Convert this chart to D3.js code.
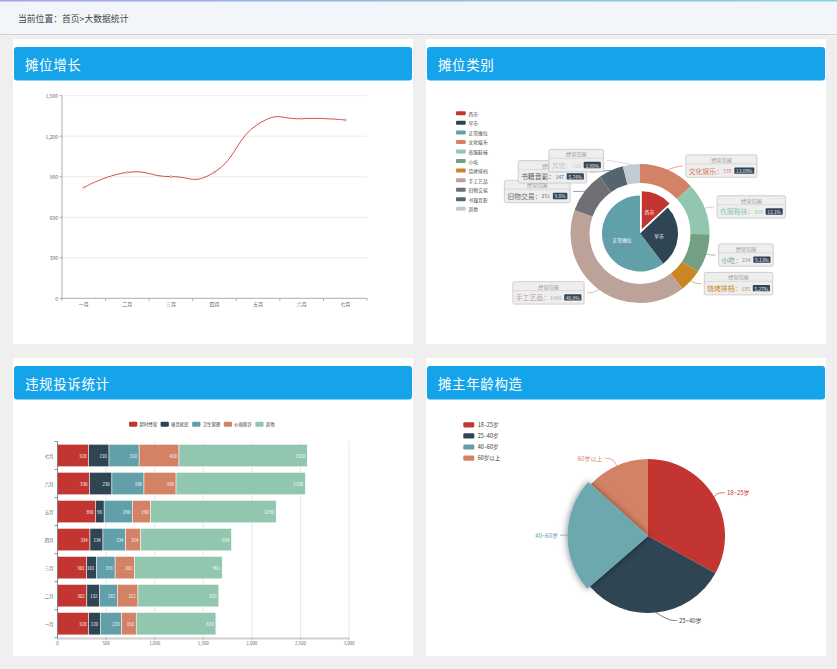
<!DOCTYPE html>
<html><head><meta charset="utf-8">
<script src="https://cdn.jsdelivr.net/npm/d3@7"></script>
<style>
html,body{margin:0;padding:0;background:#efefef;width:837px;height:669px;overflow:hidden;}
svg{display:block;font-family:"Noto Sans CJK SC","Noto Sans",sans-serif;}
</style></head><body>
<svg id="chart" width="837" height="669"></svg>
<script>
// ---------- DATA ----------
const months = ["一月","二月","三月","四月","五月","六月","七月"];
const growthValues = [820, 932, 901, 934, 1290, 1330, 1320];
const growthTicks = [0, 300, 600, 900, 1200, 1500];

const innerNames = ["西市","早市","正常摊位"];
const innerValues = [335, 679, 1548];
const outerNames = ["文化娱乐","衣服鞋袜","小吃","烧烤排档","手工艺品","旧物交易","书籍音影","其他"];
const outerValues = [335, 310, 234, 135, 1048, 251, 147, 102];
const palette = ['#c23531','#2f4554','#61a0a8','#d48265','#91c7ae','#749f83','#ca8622','#bda29a','#6e7074','#546570','#c4ccd3'];

const complaintTypes = ["超时经营","噪音扰民","卫生管理","价格欺诈","其他"];
const complaintTimeout = [320, 302, 301, 334, 390, 330, 320];
const complaintNoise   = [120, 132, 101, 134, 90, 230, 210];
const complaintHygiene = [220, 182, 191, 234, 290, 330, 310];
const complaintPrice   = [150, 212, 201, 154, 190, 330, 410];
const complaintOther   = [820, 832, 901, 934, 1290, 1330, 1320];
const complaintTicks = [0, 500, 1000, 1500, 2000, 2500, 3000];

const ageGroups = ["18~25岁","25~40岁","40~60岁","60岁以上"];
const ageValues = [335, 310, 234, 135];

// ---------- PAGE ----------
const svg = d3.select("#chart");
const defs = svg.append("defs");
const gr = defs.append("linearGradient").attr("id","topline").attr("x1","0").attr("x2","1");
gr.append("stop").attr("offset","0").attr("stop-color","#a3a3e2");
gr.append("stop").attr("offset","1").attr("stop-color","#86d2e6");
const fl = defs.append("filter").attr("id","shadow").attr("x","-50%").attr("y","-50%").attr("width","200%").attr("height","200%");
fl.append("feDropShadow").attr("dx",0).attr("dy",0).attr("stdDeviation",3.5).attr("flood-color","#000").attr("flood-opacity",0.5);

svg.append("rect").attr("x",0).attr("y",0).attr("width",837).attr("height",34).attr("fill","#f2f5fa");
svg.append("rect").attr("x",0).attr("y",0).attr("width",837).attr("height",1.5).attr("fill","url(#topline)");
svg.append("line").attr("x1",0).attr("x2",837).attr("y1",34.5).attr("y2",34.5).attr("stroke","#d2d2d2");
svg.append("text").attr("x",18).attr("y",18).attr("dominant-baseline","central")
  .attr("font-size",8.8).attr("fill","#444").text("当前位置：首页>大数据统计");

const panels = [
  {x:13,y:39,w:400,h:305,title:"摊位增长"},
  {x:426,y:39,w:400,h:305,title:"摊位类别"},
  {x:13,y:358,w:400,h:298,title:"违规投诉统计"},
  {x:426,y:358,w:400,h:298,title:"摊主年龄构造"}];
panels.forEach(p=>{
  svg.append("rect").attr("x",p.x).attr("y",p.y).attr("width",p.w).attr("height",p.h).attr("fill","#fff");
  svg.append("rect").attr("x",p.x+1).attr("y",p.y+8).attr("width",p.w-2).attr("height",33.5).attr("rx",3).attr("fill","#15a4ea");
  svg.append("text").attr("x",p.x+12).attr("y",p.y+25).attr("dominant-baseline","central")
    .attr("font-size",13.5).attr("fill","#fff").attr("letter-spacing",0.6).text(p.title);
});

// ---------- LINE CHART ----------
(function(){
  const g = svg.append("g");
  const x = d3.scaleBand().domain(months).range([62, 367]);
  const y = d3.scaleLinear().domain([0,1500]).range([298.3, 95.7]);
  g.selectAll("line.grid").data(growthTicks.filter(t=>t>0)).join("line")
    .attr("x1",62).attr("x2",367).attr("y1",d=>y(d)).attr("y2",d=>y(d)).attr("stroke","#e6e6e6").attr("stroke-width",0.8);
  g.append("line").attr("x1",62).attr("x2",62).attr("y1",y(1500)).attr("y2",y(0)).attr("stroke","#999").attr("stroke-width",0.8);
  g.append("line").attr("x1",62).attr("x2",367).attr("y1",y(0)).attr("y2",y(0)).attr("stroke","#999").attr("stroke-width",0.8);
  g.selectAll("line.yt").data(growthTicks).join("line")
    .attr("x1",59.5).attr("x2",62).attr("y1",d=>y(d)).attr("y2",d=>y(d)).attr("stroke","#999").attr("stroke-width",0.8);
  g.selectAll("text.yl").data(growthTicks).join("text")
    .attr("x",58).attr("y",d=>y(d)).attr("text-anchor","end").attr("dominant-baseline","central")
    .attr("font-size",5).attr("fill","#666").text(d=>d3.format(",")(d));
  const bounds = months.map(m=>x(m)).concat([x.range()[1]]);
  g.selectAll("line.xt").data(bounds).join("line")
    .attr("x1",d=>d).attr("x2",d=>d).attr("y1",y(0)).attr("y2",y(0)+2.5).attr("stroke","#999").attr("stroke-width",0.8);
  g.selectAll("text.xl").data(months).join("text")
    .attr("x",d=>x(d)+x.bandwidth()/2).attr("y",y(0)+5.5).attr("text-anchor","middle").attr("dominant-baseline","central")
    .attr("font-size",5).attr("fill","#666").text(d=>d);
  const line = d3.line().x((d,i)=>x(months[i])+x.bandwidth()/2).y(d=>y(d)).curve(d3.curveCardinal.tension(-0.5));
  g.append("path").attr("d",line(growthValues)).attr("fill","none").attr("stroke","#d0504c").attr("stroke-width",1);
  g.selectAll("circle").data(growthValues).join("circle")
    .attr("cx",(d,i)=>x(months[i])+x.bandwidth()/2).attr("cy",d=>y(d)).attr("r",1)
    .attr("fill","#fff").attr("stroke","#d0504c").attr("stroke-width",0.5);
})();

// ---------- DONUT ----------
function percentWithPrecision(vals, prec){
  const sum = d3.sum(vals), digits = Math.pow(10,prec), target = 100*digits;
  const votes = vals.map(v=>v/sum*target);
  const seats = votes.map(v=>Math.floor(v));
  const rem = votes.map((v,i)=>v-seats[i]);
  let cur = d3.sum(seats);
  while(cur<target){ const mi = d3.maxIndex(rem); seats[mi]++; rem[mi]=-1; cur++; }
  return seats.map(s=>+(s/digits).toFixed(prec));
}
(function(){
  const g = svg.append("g");
  const cx=640, cy=233.5, R=69.5, r0=50.5, pr=38;
  // legend
  const legendNames = innerNames.concat(outerNames);
  legendNames.forEach((n,i)=>{
    const yy = 113.3 + i*9.55;
    g.append("rect").attr("x",456).attr("y",yy-2).attr("width",9.7).attr("height",4).attr("rx",1).attr("fill",palette[i]);
    g.append("text").attr("x",468.5).attr("y",yy).attr("dominant-baseline","central").attr("font-size",4.8).attr("fill","#444").text(n);
  });
  const innerArcs = d3.pie().sort(null)(innerValues);
  const outerArcs = d3.pie().sort(null)(outerValues);
  const arcPie = d3.arc().innerRadius(0).outerRadius(pr);
  const arcRing = d3.arc().innerRadius(r0).outerRadius(R);
  const selOff = 4.5;
  innerArcs.forEach((a,i)=>{
    const m=(a.startAngle+a.endAngle)/2, off = i===0?selOff:0;
    const tx = Math.sin(m)*off, ty = -Math.cos(m)*off;
    g.append("path").attr("d",arcPie(a)).attr("transform",`translate(${cx+tx},${cy+ty})`).attr("fill",palette[i]);
  });
  innerArcs.forEach((a,i)=>{
    const m=(a.startAngle+a.endAngle)/2, off = i===0?selOff:0;
    const rr = pr*0.5 + off;
    g.append("text").attr("x",cx+Math.sin(m)*rr).attr("y",cy-Math.cos(m)*rr).attr("text-anchor","middle")
      .attr("dominant-baseline","central").attr("font-size",4.8).attr("fill","#fff").text(innerNames[i]);
  });
  outerArcs.forEach((a,i)=>{
    g.append("path").attr("d",arcRing(a)).attr("transform",`translate(${cx},${cy})`).attr("fill",palette[i+3]);
  });
  // labels
  const pct = percentWithPrecision(outerValues, 2);
  const h = 11.3, L1 = 4, len2 = 5, RL = 81.5;
  const labels = outerArcs.map((a,i)=>{
    const m=(a.startAngle+a.endAngle)/2;
    const s=Math.sin(m), c=Math.cos(m);
    return {i, m, s, c, dir: s<0?-1:1, p0:[cx+s*R, cy-c*R], y: cy-c*(R+L1), x: cx+s*(R+L1)};
  });
  function adjust(list, dir){
    list.sort((p,q)=>p.y-q.y);
    const len=list.length;
    function shiftUp(end, delta){ for(let j=end;j>=0;j--){ list[j].y-=delta; if(j>0 && list[j].y>list[j-1].y+h) break; } }
    function shiftDown(start,end,delta){
      for(let j=start;j<end;j++){ list[j].y+=delta; if(j>start && j+1<end && list[j+1].y>list[j].y+h){ shiftUp(j,delta/2); return; } }
      shiftUp(end-1,delta/2);
    }
    let lastY=0;
    for(let i=0;i<len;i++){ const d=list[i].y-lastY; if(d<0) shiftDown(i,len,-d); lastY=list[i].y+h; }
    const up=list.filter(l=>l.y<cy), down=list.filter(l=>l.y>=cy);
    function changeX(lst, isDown){
      let last = isDown?Number.MAX_VALUE:0;
      lst.forEach(l=>{
        const dy=Math.abs(l.y-cy);
        let dx = dy<RL ? Math.sqrt(RL*RL-dy*dy) : Math.abs(l.x-cx);
        if(isDown && dx>=last) dx=last-10;
        if(!isDown && dx<=last) dx=last+10;
        l.ex = cx + dx*dir; last=dx;
      });
    }
    changeX(up,false); changeX(down.slice(),true);
  }
  adjust(labels.filter(l=>l.dir<0),-1);
  adjust(labels.filter(l=>l.dir>0),1);
  const lineGen = d3.line().curve(d3.curveBasis);
  labels.forEach(l=>{
    const endX = l.ex - l.dir*3;
    g.append("path").attr("d",lineGen([l.p0,[endX-l.dir*len2,l.y],[endX,l.y]]))
      .attr("fill","none").attr("stroke",palette[l.i+3]).attr("stroke-width",0.7);
  });
  const hh=9, bh=13.5, sp=2.8;
  labels.sort((p,q)=>p.i-q.i).forEach(l=>{
    const color = palette[l.i+3];
    const bx = g.append("g");
    const bg = bx.append("rect");
    const hr = bx.append("line");
    const top = -(hh+bh)/2;
    const hdr = bx.append("text").text("经营范围").attr("font-size",5.1).attr("fill","#999")
      .attr("text-anchor","middle").attr("dominant-baseline","central").attr("y",top+hh/2);
    const bodyY = top+hh+bh/2;
    let xx = sp;
    const tb = bx.append("text").text(outerNames[l.i]+"：").attr("font-size",6.9).attr("fill",color)
      .attr("x",xx).attr("y",bodyY).attr("dominant-baseline","central");
    xx += tb.node().getComputedTextLength();
    const tc = bx.append("text").text(outerValues[l.i]).attr("font-size",5.1).attr("fill",color)
      .attr("x",xx).attr("y",bodyY).attr("dominant-baseline","central");
    xx += tc.node().getComputedTextLength() + sp;
    const prc = bx.append("rect");
    const pt = bx.append("text").text(pct[l.i]+"%").attr("font-size",4.8).attr("fill","#eee")
      .attr("x",xx+1.7).attr("y",bodyY).attr("dominant-baseline","central");
    const pw = pt.node().getComputedTextLength();
    prc.attr("x",xx).attr("y",bodyY-3.2).attr("width",pw+3.4).attr("height",6.4).attr("rx",0.9).attr("fill","#334455");
    xx += pw+3.4+sp;
    const w = xx;
    bg.attr("x",0).attr("y",top).attr("width",w).attr("height",hh+bh).attr("rx",1.8)
      .attr("fill","#eee").attr("stroke","#aaa").attr("stroke-width",0.5);
    hr.attr("x1",0).attr("x2",w).attr("y1",top+hh).attr("y2",top+hh).attr("stroke","#aaa").attr("stroke-width",0.3);
    hdr.attr("x",w/2);
    const bxX = l.dir>0 ? l.ex : l.ex - w;
    bx.attr("transform",`translate(${bxX},${l.y})`);
  });
})();

// ---------- STACKED BAR ----------
(function(){
  const g = svg.append("g");
  const seriesArrays = [complaintTimeout, complaintNoise, complaintHygiene, complaintPrice, complaintOther];
  const rows = months.map((m,i)=>{ const o={month:m}; complaintTypes.forEach((k,j)=>o[k]=seriesArrays[j][i]); return o; });
  const stack = d3.stack().keys(complaintTypes)(rows);
  const x = d3.scaleLinear().domain([0,3000]).range([57.5, 349]);
  const y = d3.scaleBand().domain(months.slice().reverse()).range([441.5, 637.7]).paddingInner(0.2).paddingOuter(0.1);
  const step = y.step();
  const yTop = 441.5, yBot = 637.7;
  g.selectAll("line.grid").data(complaintTicks.filter(t=>t>0)).join("line")
    .attr("x1",d=>x(d)).attr("x2",d=>x(d)).attr("y1",yTop).attr("y2",yBot).attr("stroke","#dcdcdc").attr("stroke-width",0.7);
  // legend
  let lx = 129;
  complaintTypes.forEach((k,i)=>{
    g.append("rect").attr("x",lx).attr("y",421.8).attr("width",8.3).attr("height",5).attr("rx",1.2).attr("fill",palette[i]);
    const t = g.append("text").attr("x",lx+10.5).attr("y",424.3).attr("dominant-baseline","central")
      .attr("font-size",4.4).attr("fill","#333").text(k);
    lx += 10.5 + t.node().getComputedTextLength() + 3.5;
  });
  stack.forEach((s,si)=>{
    s.forEach((d,i)=>{
      const m = d.data.month;
      g.append("rect").attr("x",x(d[0])).attr("y",y(m)).attr("width",x(d[1])-x(d[0])).attr("height",y.bandwidth())
        .attr("fill",palette[si]).attr("stroke","#fff").attr("stroke-width",0.5);
      g.append("text").attr("x",x(d[1])-2.2).attr("y",y(m)+y.bandwidth()/2).attr("text-anchor","end")
        .attr("dominant-baseline","central").attr("font-size",4.4).attr("fill","#fff").text(d[1]-d[0]);
    });
  });
  // axes
  g.append("line").attr("x1",x(0)).attr("x2",x(3000)).attr("y1",yBot+0.8).attr("y2",yBot+0.8).attr("stroke","#cfcfcf").attr("stroke-width",2);
  g.append("line").attr("x1",x(0)).attr("x2",x(0)).attr("y1",yTop).attr("y2",yBot).attr("stroke","#666").attr("stroke-width",0.8);
  const bnds = d3.range(months.length+1).map(i=>yTop+i*step);
  g.selectAll("line.yt").data(bnds).join("line")
    .attr("x1",x(0)-3).attr("x2",x(0)).attr("y1",d=>d).attr("y2",d=>d).attr("stroke","#666").attr("stroke-width",0.7);
  g.selectAll("text.yl").data(months).join("text")
    .attr("x",x(0)-4).attr("y",d=>y(d)+y.bandwidth()/2).attr("text-anchor","end").attr("dominant-baseline","central")
    .attr("font-size",4.4).attr("fill","#555").text(d=>d);
  g.selectAll("line.xt").data(complaintTicks).join("line")
    .attr("x1",d=>x(d)).attr("x2",d=>x(d)).attr("y1",yBot).attr("y2",yBot+2.5).attr("stroke","#aaa").attr("stroke-width",0.7);
  g.selectAll("text.xl").data(complaintTicks).join("text")
    .attr("x",d=>x(d)).attr("y",yBot+5).attr("text-anchor","middle").attr("dominant-baseline","central")
    .attr("font-size",4.4).attr("fill","#666").text(d=>d3.format(",")(d));
})();

// ---------- AGE PIE ----------
(function(){
  const g = svg.append("g");
  const cx=648, cy=536, R=77, hover=2;
  ageGroups.forEach((n,i)=>{
    const yy = 424.8 + i*11.1;
    g.append("rect").attr("x",463.3).attr("y",yy-2.6).attr("width",11).attr("height",5.2).attr("rx",1.3).attr("fill",palette[i]);
    g.append("text").attr("x",477.7).attr("y",yy).attr("dominant-baseline","central").attr("font-size",5.5).attr("fill","#333").text(n);
  });
  const arcs = d3.pie().sort(null)(ageValues);
  const arc = d3.arc().innerRadius(0).outerRadius(R);
  const arcH = d3.arc().innerRadius(0).outerRadius(R+3.5);
  function lift(col, lv){ const c=d3.rgb(col); return d3.rgb(c.r*(1-lv)+255*lv, c.g*(1-lv)+255*lv, c.b*(1-lv)+255*lv).formatHex(); }
  arcs.forEach((a,i)=>{ if(i!==hover) g.append("path").attr("d",arc(a)).attr("transform",`translate(${cx},${cy})`).attr("fill",palette[i]); });
  g.append("path").attr("d",arcH(arcs[hover])).attr("transform",`translate(${cx},${cy})`)
    .attr("fill",lift(palette[hover],0.08)).attr("filter","url(#shadow)");
  const lineGen = d3.line().curve(d3.curveBasis);
  const RL = 90, L = 8;
  arcs.forEach((a,i)=>{
    const m=(a.startAngle+a.endAngle)/2, s=Math.sin(m), c=Math.cos(m), dir = s<0?-1:1;
    const rr = i===hover?R+3.5:R;
    const p0=[cx+s*rr, cy-c*rr];
    const ly = cy - c*(R+L);
    const dy = Math.abs(ly-cy);
    const ex = cx + dir*Math.sqrt(RL*RL-dy*dy);
    const endX = ex - dir*2;
    const col = palette[i];
    g.append("path").attr("d",lineGen([p0,[endX-dir*8,ly],[endX,ly]])).attr("fill","none").attr("stroke",col).attr("stroke-width",0.7);
    g.append("text").attr("x",ex).attr("y",ly).attr("text-anchor",dir>0?"start":"end").attr("dominant-baseline","central")
      .attr("font-size",6).attr("fill",col).text(ageGroups[i]);
  });
})();
</script>
</body></html>
